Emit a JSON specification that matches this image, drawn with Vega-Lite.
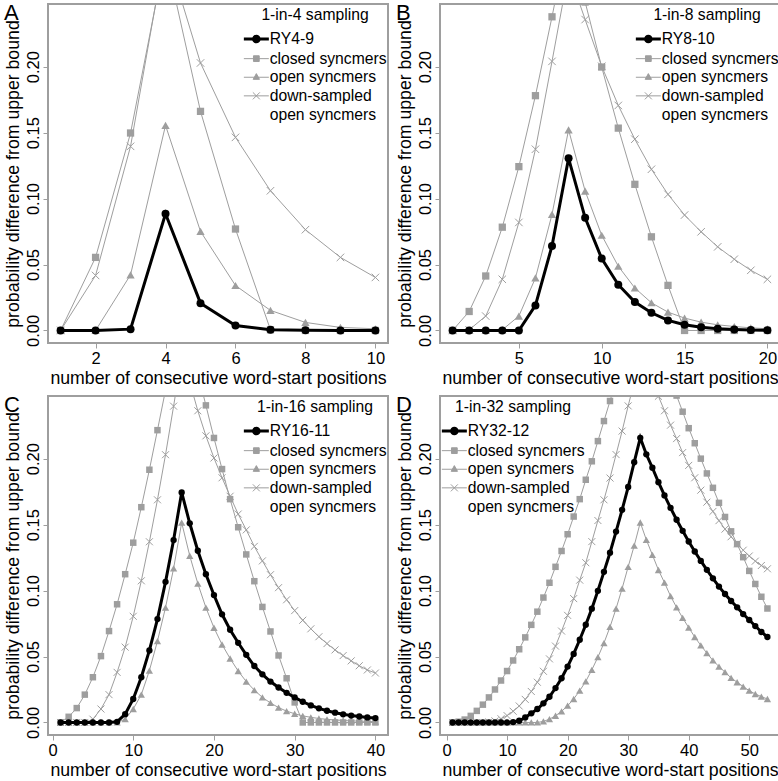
{
"$schema": "https://vega.github.io/schema/vega-lite/v6.json",
"background": "white",
"padding": {"left": 2, "top": 1, "right": 0, "bottom": 0},
"config": {
 "font": "Liberation Sans",
 "view": {"stroke": "#9e9e9e", "strokeWidth": 2},
 "axis": {"domain": false, "grid": false, "tickColor": "#9e9e9e", "tickSize": 5, "tickWidth": 1, "labelFont": "Liberation Sans", "labelFontSize": 16.5, "labelColor": "black", "titleFont": "Liberation Sans", "titleFontSize": 17.7, "titleFontWeight": "normal", "titleColor": "black", "labelPadding": 2},
 "axisX": {"titlePadding": 3, "labelFlush": false, "labelOverlap": false},
 "axisY": {"labelAngle": 270, "labelAlign": "center", "labelBaseline": "bottom", "titlePadding": 3, "labelOverlap": false},
 "legend": {"padding": 0, "titleFont": "Liberation Sans", "titleFontSize": 15.7, "titleFontWeight": "normal", "titleColor": "black", "titleAnchor": "middle", "titlePadding": 7.5, "titleLineHeight": 3, "labelFont": "Liberation Sans", "labelFontSize": 15.7, "labelColor": "black", "labelOffset": 5.5, "labelLimit": 400, "rowPadding": 1.6, "symbolSize": 196, "symbolOffset": 5.5},
 "title": {"font": "Liberation Sans", "fontSize": 22, "fontWeight": "normal", "color": "black", "anchor": "start", "frame": "bounds", "offset": -21}
},
"datasets": {
 "A": [
  {"s":"RY","x":1,"y":0},{"s":"RY","x":2,"y":0},{"s":"RY","x":3,"y":0.001},{"s":"RY","x":4,"y":0.0885},{"s":"RY","x":5,"y":0.0207},{"s":"RY","x":6,"y":0.0038},{"s":"RY","x":7,"y":0.0005},{"s":"RY","x":8,"y":0.0001},{"s":"RY","x":9,"y":0},{"s":"RY","x":10,"y":0},
  {"s":"closed","x":1,"y":0},{"s":"closed","x":2,"y":0.0554},{"s":"closed","x":3,"y":0.1497},{"s":"closed","x":4,"y":0.285},{"s":"closed","x":5,"y":0.1661},{"s":"closed","x":6,"y":0.0769},{"s":"closed","x":7,"y":0.0005},{"s":"closed","x":8,"y":0},{"s":"closed","x":9,"y":0},{"s":"closed","x":10,"y":0},
  {"s":"open","x":1,"y":0},{"s":"open","x":2,"y":0},{"s":"open","x":3,"y":0.0422},{"s":"open","x":4,"y":0.1555},{"s":"open","x":5,"y":0.0751},{"s":"open","x":6,"y":0.0341},{"s":"open","x":7,"y":0.0152},{"s":"open","x":8,"y":0.0061},{"s":"open","x":9,"y":0.0023},{"s":"open","x":10,"y":0.0013},
  {"s":"down","x":1,"y":0},{"s":"down","x":2,"y":0.0417},{"s":"down","x":3,"y":0.1396},{"s":"down","x":4,"y":0.29},{"s":"down","x":5,"y":0.2028},{"s":"down","x":6,"y":0.1464},{"s":"down","x":7,"y":0.1059},{"s":"down","x":8,"y":0.0764},{"s":"down","x":9,"y":0.0554},{"s":"down","x":10,"y":0.0402}
 ],
 "B": [
  {"s":"RY","x":1,"y":0},{"s":"RY","x":2,"y":0},{"s":"RY","x":3,"y":0},{"s":"RY","x":4,"y":0},{"s":"RY","x":5,"y":0},{"s":"RY","x":6,"y":0.019},{"s":"RY","x":7,"y":0.0641},{"s":"RY","x":8,"y":0.1305},{"s":"RY","x":9,"y":0.0854},{"s":"RY","x":10,"y":0.0545},{"s":"RY","x":11,"y":0.0347},{"s":"RY","x":12,"y":0.0215},{"s":"RY","x":13,"y":0.0134},{"s":"RY","x":14,"y":0.0076},{"s":"RY","x":15,"y":0.0043},{"s":"RY","x":16,"y":0.0025},{"s":"RY","x":17,"y":0.0013},{"s":"RY","x":18,"y":0.0008},{"s":"RY","x":19,"y":0.0003},{"s":"RY","x":20,"y":0.0001},
  {"s":"closed","x":1,"y":0},{"s":"closed","x":2,"y":0.0144},{"s":"closed","x":3,"y":0.0413},{"s":"closed","x":4,"y":0.0783},{"s":"closed","x":5,"y":0.1242},{"s":"closed","x":6,"y":0.178},{"s":"closed","x":7,"y":0.2378},{"s":"closed","x":8,"y":0.3},{"s":"closed","x":9,"y":0.249},{"s":"closed","x":10,"y":0.1997},{"s":"closed","x":11,"y":0.1534},{"s":"closed","x":12,"y":0.1108},{"s":"closed","x":13,"y":0.071},{"s":"closed","x":14,"y":0.0342},{"s":"closed","x":15,"y":0},{"s":"closed","x":16,"y":0},{"s":"closed","x":17,"y":0},{"s":"closed","x":18,"y":0},{"s":"closed","x":19,"y":0},{"s":"closed","x":20,"y":0},
  {"s":"open","x":1,"y":0},{"s":"open","x":2,"y":0},{"s":"open","x":3,"y":0},{"s":"open","x":4,"y":0.0005},{"s":"open","x":5,"y":0.0109},{"s":"open","x":6,"y":0.0398},{"s":"open","x":7,"y":0.088},{"s":"open","x":8,"y":0.1521},{"s":"open","x":9,"y":0.1057},{"s":"open","x":10,"y":0.0722},{"s":"open","x":11,"y":0.0487},{"s":"open","x":12,"y":0.0322},{"s":"open","x":13,"y":0.021},{"s":"open","x":14,"y":0.0139},{"s":"open","x":15,"y":0.0094},{"s":"open","x":16,"y":0.0063},{"s":"open","x":17,"y":0.0043},{"s":"open","x":18,"y":0.003},{"s":"open","x":19,"y":0.002},{"s":"open","x":20,"y":0.0013},
  {"s":"down","x":1,"y":0},{"s":"down","x":2,"y":0.0005},{"s":"down","x":3,"y":0.0109},{"s":"down","x":4,"y":0.0388},{"s":"down","x":5,"y":0.0819},{"s":"down","x":6,"y":0.1374},{"s":"down","x":7,"y":0.204},{"s":"down","x":8,"y":0.272},{"s":"down","x":9,"y":0.2357},{"s":"down","x":10,"y":0.2003},{"s":"down","x":11,"y":0.1706},{"s":"down","x":12,"y":0.145},{"s":"down","x":13,"y":0.1222},{"s":"down","x":14,"y":0.1032},{"s":"down","x":15,"y":0.0875},{"s":"down","x":16,"y":0.0748},{"s":"down","x":17,"y":0.0634},{"s":"down","x":18,"y":0.054},{"s":"down","x":19,"y":0.0456},{"s":"down","x":20,"y":0.0388}
 ],
 "C": [
  {"s":"RY","x":1,"y":0},{"s":"RY","x":2,"y":0},{"s":"RY","x":3,"y":0},{"s":"RY","x":4,"y":0},{"s":"RY","x":5,"y":0},{"s":"RY","x":6,"y":0},{"s":"RY","x":7,"y":0},{"s":"RY","x":8,"y":0.0005},{"s":"RY","x":9,"y":0.0063},{"s":"RY","x":10,"y":0.0178},{"s":"RY","x":11,"y":0.0343},{"s":"RY","x":12,"y":0.0546},{"s":"RY","x":13,"y":0.0784},{"s":"RY","x":14,"y":0.1066},{"s":"RY","x":15,"y":0.1383},{"s":"RY","x":16,"y":0.1744},{"s":"RY","x":17,"y":0.151},{"s":"RY","x":18,"y":0.1302},{"s":"RY","x":19,"y":0.1124},{"s":"RY","x":20,"y":0.0966},{"s":"RY","x":21,"y":0.082},{"s":"RY","x":22,"y":0.0703},{"s":"RY","x":23,"y":0.0604},{"s":"RY","x":24,"y":0.0513},{"s":"RY","x":25,"y":0.0428},{"s":"RY","x":26,"y":0.0365},{"s":"RY","x":27,"y":0.031},{"s":"RY","x":28,"y":0.0265},{"s":"RY","x":29,"y":0.0225},{"s":"RY","x":30,"y":0.019},{"s":"RY","x":31,"y":0.0157},{"s":"RY","x":32,"y":0.0129},{"s":"RY","x":33,"y":0.0107},{"s":"RY","x":34,"y":0.0089},{"s":"RY","x":35,"y":0.0074},{"s":"RY","x":36,"y":0.0062},{"s":"RY","x":37,"y":0.0052},{"s":"RY","x":38,"y":0.0045},{"s":"RY","x":39,"y":0.0038},{"s":"RY","x":40,"y":0.0033},
  {"s":"closed","x":1,"y":0},{"s":"closed","x":2,"y":0.0043},{"s":"closed","x":3,"y":0.0109},{"s":"closed","x":4,"y":0.0211},{"s":"closed","x":5,"y":0.0343},{"s":"closed","x":6,"y":0.0503},{"s":"closed","x":7,"y":0.0693},{"s":"closed","x":8,"y":0.0896},{"s":"closed","x":9,"y":0.1124},{"s":"closed","x":10,"y":0.1363},{"s":"closed","x":11,"y":0.1632},{"s":"closed","x":12,"y":0.1916},{"s":"closed","x":13,"y":0.2216},{"s":"closed","x":14,"y":0.252},{"s":"closed","x":15,"y":0.283},{"s":"closed","x":16,"y":0.314},{"s":"closed","x":17,"y":0.29},{"s":"closed","x":18,"y":0.265},{"s":"closed","x":19,"y":0.2404},{"s":"closed","x":20,"y":0.2157},{"s":"closed","x":21,"y":0.1921},{"s":"closed","x":22,"y":0.1693},{"s":"closed","x":23,"y":0.148},{"s":"closed","x":24,"y":0.1274},{"s":"closed","x":25,"y":0.1071},{"s":"closed","x":26,"y":0.0876},{"s":"closed","x":27,"y":0.069},{"s":"closed","x":28,"y":0.0508},{"s":"closed","x":29,"y":0.0335},{"s":"closed","x":30,"y":0.0152},{"s":"closed","x":31,"y":0},{"s":"closed","x":32,"y":0},{"s":"closed","x":33,"y":0},{"s":"closed","x":34,"y":0},{"s":"closed","x":35,"y":0},{"s":"closed","x":36,"y":0},{"s":"closed","x":37,"y":0},{"s":"closed","x":38,"y":0},{"s":"closed","x":39,"y":0},{"s":"closed","x":40,"y":0},
  {"s":"open","x":1,"y":0},{"s":"open","x":2,"y":0},{"s":"open","x":3,"y":0},{"s":"open","x":4,"y":0},{"s":"open","x":5,"y":0},{"s":"open","x":6,"y":0},{"s":"open","x":7,"y":0},{"s":"open","x":8,"y":0},{"s":"open","x":9,"y":0.0025},{"s":"open","x":10,"y":0.0102},{"s":"open","x":11,"y":0.0211},{"s":"open","x":12,"y":0.0393},{"s":"open","x":13,"y":0.0617},{"s":"open","x":14,"y":0.0871},{"s":"open","x":15,"y":0.1168},{"s":"open","x":16,"y":0.1515},{"s":"open","x":17,"y":0.1264},{"s":"open","x":18,"y":0.1053},{"s":"open","x":19,"y":0.0871},{"s":"open","x":20,"y":0.0718},{"s":"open","x":21,"y":0.0591},{"s":"open","x":22,"y":0.0485},{"s":"open","x":23,"y":0.039},{"s":"open","x":24,"y":0.031},{"s":"open","x":25,"y":0.0245},{"s":"open","x":26,"y":0.019},{"s":"open","x":27,"y":0.0148},{"s":"open","x":28,"y":0.0113},{"s":"open","x":29,"y":0.0086},{"s":"open","x":30,"y":0.0066},{"s":"open","x":31,"y":0.005},{"s":"open","x":32,"y":0.0039},{"s":"open","x":33,"y":0.003},{"s":"open","x":34,"y":0.0024},{"s":"open","x":35,"y":0.0019},{"s":"open","x":36,"y":0.0015},{"s":"open","x":37,"y":0.0012},{"s":"open","x":38,"y":0.001},{"s":"open","x":39,"y":0.0008},{"s":"open","x":40,"y":0.0006},
  {"s":"down","x":1,"y":0},{"s":"down","x":2,"y":0},{"s":"down","x":3,"y":0},{"s":"down","x":4,"y":0},{"s":"down","x":5,"y":0.0025},{"s":"down","x":6,"y":0.0102},{"s":"down","x":7,"y":0.0211},{"s":"down","x":8,"y":0.038},{"s":"down","x":9,"y":0.0571},{"s":"down","x":10,"y":0.0805},{"s":"down","x":11,"y":0.1074},{"s":"down","x":12,"y":0.137},{"s":"down","x":13,"y":0.1688},{"s":"down","x":14,"y":0.203},{"s":"down","x":15,"y":0.2398},{"s":"down","x":16,"y":0.278},{"s":"down","x":17,"y":0.258},{"s":"down","x":18,"y":0.2363},{"s":"down","x":19,"y":0.2173},{"s":"down","x":20,"y":0.2005},{"s":"down","x":21,"y":0.1855},{"s":"down","x":22,"y":0.1715},{"s":"down","x":23,"y":0.158},{"s":"down","x":24,"y":0.146},{"s":"down","x":25,"y":0.1335},{"s":"down","x":26,"y":0.1225},{"s":"down","x":27,"y":0.112},{"s":"down","x":28,"y":0.1022},{"s":"down","x":29,"y":0.093},{"s":"down","x":30,"y":0.0848},{"s":"down","x":31,"y":0.0775},{"s":"down","x":32,"y":0.071},{"s":"down","x":33,"y":0.065},{"s":"down","x":34,"y":0.0598},{"s":"down","x":35,"y":0.055},{"s":"down","x":36,"y":0.0507},{"s":"down","x":37,"y":0.0467},{"s":"down","x":38,"y":0.043},{"s":"down","x":39,"y":0.0398},{"s":"down","x":40,"y":0.0375}
 ],
 "D": [
  {"s":"RY","x":1,"y":0},{"s":"RY","x":2,"y":0},{"s":"RY","x":3,"y":0},{"s":"RY","x":4,"y":0},{"s":"RY","x":5,"y":0},{"s":"RY","x":6,"y":0},{"s":"RY","x":7,"y":0},{"s":"RY","x":8,"y":0},{"s":"RY","x":9,"y":0},{"s":"RY","x":10,"y":0},{"s":"RY","x":11,"y":0.0003},{"s":"RY","x":12,"y":0.0013},{"s":"RY","x":13,"y":0.0038},{"s":"RY","x":14,"y":0.0069},{"s":"RY","x":15,"y":0.0102},{"s":"RY","x":16,"y":0.0145},{"s":"RY","x":17,"y":0.0195},{"s":"RY","x":18,"y":0.0261},{"s":"RY","x":19,"y":0.0335},{"s":"RY","x":20,"y":0.0424},{"s":"RY","x":21,"y":0.052},{"s":"RY","x":22,"y":0.0627},{"s":"RY","x":23,"y":0.0741},{"s":"RY","x":24,"y":0.0863},{"s":"RY","x":25,"y":0.0998},{"s":"RY","x":26,"y":0.1142},{"s":"RY","x":27,"y":0.1287},{"s":"RY","x":28,"y":0.1447},{"s":"RY","x":29,"y":0.1612},{"s":"RY","x":30,"y":0.1785},{"s":"RY","x":31,"y":0.1973},{"s":"RY","x":32,"y":0.2158},{"s":"RY","x":33,"y":0.2033},{"s":"RY","x":34,"y":0.1931},{"s":"RY","x":35,"y":0.1822},{"s":"RY","x":36,"y":0.1721},{"s":"RY","x":37,"y":0.1627},{"s":"RY","x":38,"y":0.1537},{"s":"RY","x":39,"y":0.1453},{"s":"RY","x":40,"y":0.1372},{"s":"RY","x":41,"y":0.1296},{"s":"RY","x":42,"y":0.1225},{"s":"RY","x":43,"y":0.1157},{"s":"RY","x":44,"y":0.1093},{"s":"RY","x":45,"y":0.103},{"s":"RY","x":46,"y":0.0974},{"s":"RY","x":47,"y":0.0921},{"s":"RY","x":48,"y":0.0873},{"s":"RY","x":49,"y":0.0822},{"s":"RY","x":50,"y":0.0777},{"s":"RY","x":51,"y":0.0731},{"s":"RY","x":52,"y":0.0686},{"s":"RY","x":53,"y":0.0648},
  {"s":"closed","x":1,"y":0},{"s":"closed","x":2,"y":0.0006},{"s":"closed","x":3,"y":0.0022},{"s":"closed","x":4,"y":0.005},{"s":"closed","x":5,"y":0.0088},{"s":"closed","x":6,"y":0.0135},{"s":"closed","x":7,"y":0.019},{"s":"closed","x":8,"y":0.025},{"s":"closed","x":9,"y":0.0318},{"s":"closed","x":10,"y":0.039},{"s":"closed","x":11,"y":0.047},{"s":"closed","x":12,"y":0.0555},{"s":"closed","x":13,"y":0.0645},{"s":"closed","x":14,"y":0.074},{"s":"closed","x":15,"y":0.084},{"s":"closed","x":16,"y":0.0947},{"s":"closed","x":17,"y":0.1059},{"s":"closed","x":18,"y":0.118},{"s":"closed","x":19,"y":0.13},{"s":"closed","x":20,"y":0.1427},{"s":"closed","x":21,"y":0.1561},{"s":"closed","x":22,"y":0.1693},{"s":"closed","x":23,"y":0.184},{"s":"closed","x":24,"y":0.198},{"s":"closed","x":25,"y":0.2133},{"s":"closed","x":26,"y":0.2285},{"s":"closed","x":27,"y":0.2437},{"s":"closed","x":28,"y":0.259},{"s":"closed","x":29,"y":0.275},{"s":"closed","x":30,"y":0.291},{"s":"closed","x":31,"y":0.307},{"s":"closed","x":32,"y":0.323},{"s":"closed","x":33,"y":0.31},{"s":"closed","x":34,"y":0.297},{"s":"closed","x":35,"y":0.285},{"s":"closed","x":36,"y":0.273},{"s":"closed","x":37,"y":0.261},{"s":"closed","x":38,"y":0.2478},{"s":"closed","x":39,"y":0.2356},{"s":"closed","x":40,"y":0.2231},{"s":"closed","x":41,"y":0.2117},{"s":"closed","x":42,"y":0.2},{"s":"closed","x":43,"y":0.1888},{"s":"closed","x":44,"y":0.1779},{"s":"closed","x":45,"y":0.1665},{"s":"closed","x":46,"y":0.1558},{"s":"closed","x":47,"y":0.1449},{"s":"closed","x":48,"y":0.1352},{"s":"closed","x":49,"y":0.1253},{"s":"closed","x":50,"y":0.1149},{"s":"closed","x":51,"y":0.105},{"s":"closed","x":52,"y":0.0953},{"s":"closed","x":53,"y":0.0864},
  {"s":"open","x":1,"y":0},{"s":"open","x":2,"y":0},{"s":"open","x":3,"y":0},{"s":"open","x":4,"y":0},{"s":"open","x":5,"y":0},{"s":"open","x":6,"y":0},{"s":"open","x":7,"y":0},{"s":"open","x":8,"y":0},{"s":"open","x":9,"y":0},{"s":"open","x":10,"y":0},{"s":"open","x":11,"y":0},{"s":"open","x":12,"y":0},{"s":"open","x":13,"y":0},{"s":"open","x":14,"y":0},{"s":"open","x":15,"y":0},{"s":"open","x":16,"y":0.0008},{"s":"open","x":17,"y":0.0025},{"s":"open","x":18,"y":0.0051},{"s":"open","x":19,"y":0.0084},{"s":"open","x":20,"y":0.0127},{"s":"open","x":21,"y":0.0178},{"s":"open","x":22,"y":0.0241},{"s":"open","x":23,"y":0.0312},{"s":"open","x":24,"y":0.0399},{"s":"open","x":25,"y":0.0495},{"s":"open","x":26,"y":0.0602},{"s":"open","x":27,"y":0.0724},{"s":"open","x":28,"y":0.0863},{"s":"open","x":29,"y":0.1015},{"s":"open","x":30,"y":0.118},{"s":"open","x":31,"y":0.134},{"s":"open","x":32,"y":0.1516},{"s":"open","x":33,"y":0.1385},{"s":"open","x":34,"y":0.1271},{"s":"open","x":35,"y":0.1156},{"s":"open","x":36,"y":0.106},{"s":"open","x":37,"y":0.0958},{"s":"open","x":38,"y":0.0872},{"s":"open","x":39,"y":0.0793},{"s":"open","x":40,"y":0.0719},{"s":"open","x":41,"y":0.0648},{"s":"open","x":42,"y":0.0584},{"s":"open","x":43,"y":0.0526},{"s":"open","x":44,"y":0.047},{"s":"open","x":45,"y":0.0424},{"s":"open","x":46,"y":0.0381},{"s":"open","x":47,"y":0.0338},{"s":"open","x":48,"y":0.0305},{"s":"open","x":49,"y":0.0272},{"s":"open","x":50,"y":0.0241},{"s":"open","x":51,"y":0.0216},{"s":"open","x":52,"y":0.0196},{"s":"open","x":53,"y":0.0178},
  {"s":"down","x":1,"y":0},{"s":"down","x":2,"y":0},{"s":"down","x":3,"y":0},{"s":"down","x":4,"y":0},{"s":"down","x":5,"y":0},{"s":"down","x":6,"y":0},{"s":"down","x":7,"y":0.0004},{"s":"down","x":8,"y":0.0012},{"s":"down","x":9,"y":0.0028},{"s":"down","x":10,"y":0.0052},{"s":"down","x":11,"y":0.0085},{"s":"down","x":12,"y":0.0125},{"s":"down","x":13,"y":0.0175},{"s":"down","x":14,"y":0.0235},{"s":"down","x":15,"y":0.0305},{"s":"down","x":16,"y":0.0388},{"s":"down","x":17,"y":0.0482},{"s":"down","x":18,"y":0.0579},{"s":"down","x":19,"y":0.0693},{"s":"down","x":20,"y":0.0812},{"s":"down","x":21,"y":0.0939},{"s":"down","x":22,"y":0.1079},{"s":"down","x":23,"y":0.1211},{"s":"down","x":24,"y":0.1371},{"s":"down","x":25,"y":0.1531},{"s":"down","x":26,"y":0.1688},{"s":"down","x":27,"y":0.1853},{"s":"down","x":28,"y":0.2031},{"s":"down","x":29,"y":0.2209},{"s":"down","x":30,"y":0.24},{"s":"down","x":31,"y":0.258},{"s":"down","x":32,"y":0.276},{"s":"down","x":33,"y":0.268},{"s":"down","x":34,"y":0.258},{"s":"down","x":35,"y":0.2473},{"s":"down","x":36,"y":0.2363},{"s":"down","x":37,"y":0.2254},{"s":"down","x":38,"y":0.2152},{"s":"down","x":39,"y":0.2046},{"s":"down","x":40,"y":0.1949},{"s":"down","x":41,"y":0.1855},{"s":"down","x":42,"y":0.1761},{"s":"down","x":43,"y":0.167},{"s":"down","x":44,"y":0.16},{"s":"down","x":45,"y":0.153},{"s":"down","x":46,"y":0.1466},{"s":"down","x":47,"y":0.1408},{"s":"down","x":48,"y":0.1355},{"s":"down","x":49,"y":0.1306},{"s":"down","x":50,"y":0.1262},{"s":"down","x":51,"y":0.1223},{"s":"down","x":52,"y":0.119},{"s":"down","x":53,"y":0.1165}
 ]
},
"columns": 2,
"spacing": {"row": 53, "column": 52},
"bounds": "flush",
"resolve": {"scale": {"x": "independent", "y": "independent", "color": "independent"}, "legend": {"color": "independent"}, "axis": {"x": "independent", "y": "independent"}},
"concat": [
 {
  "width": 340, "height": 339,
  "data": {"name": "A"},
  "title": {"text": "A"},
  "encoding": {
   "x": {"field": "x", "type": "quantitative", "scale": {"domain": [0.64, 10.36], "nice": false, "zero": false}, "axis": {"values": [2, 4, 6, 8, 10], "title": "number of consecutive word-start positions"}},
   "y": {"field": "y", "type": "quantitative", "scale": {"domain": [-0.0095, 0.2475], "nice": false, "zero": false}, "axis": {"values": [0, 0.05, 0.1, 0.15, 0.2], "format": ".2f", "title": "probability difference from upper bound"}}
  },
  "layer": [
   {"transform": [{"filter": "datum.s != 'RY'"}], "mark": {"type": "line", "clip": true, "strokeWidth": 1},
    "encoding": {"color": {"field": "s", "type": "nominal", "scale": {"domain": ["RY", "closed", "open", "down"], "range": ["#000000", "#9e9e9e", "#9e9e9e", "#9e9e9e"]},
     "legend": {"title": ["", "1-in-4 sampling"], "orient": "top-right", "offset": 1,
      "labelExpr": "datum.value == 'RY' ? 'RY4-9' : datum.value == 'closed' ? 'closed syncmers' : datum.value == 'open' ? 'open syncmers' : ['down-sampled', 'open syncmers']",
      "encode": {"symbols": {"update": {
        "shape": {"signal": "datum.value == 'RY' ? 'M-1.786,0L1.786,0M0.4,0A0.4,0.4,0,1,1,-0.4,0A0.4,0.4,0,1,1,0.4,0Z' : datum.value == 'closed' ? 'M-1.786,0L1.786,0M-0.41,-0.41L0.41,-0.41L0.41,0.41L-0.41,0.41Z' : datum.value == 'open' ? 'M-1.786,0L1.786,0M0,-0.52L0.45,0.3L-0.45,0.3Z' : 'M-1.786,0L1.786,0M-0.5,-0.5L0.5,0.5M-0.5,0.5L0.5,-0.5'"},
        "fill": {"signal": "datum.value == 'RY' ? '#000000' : datum.value == 'down' ? 'transparent' : '#9e9e9e'"},
        "stroke": {"signal": "datum.value == 'RY' ? '#000000' : '#9e9e9e'"},
        "strokeWidth": {"signal": "datum.value == 'RY' ? 3 : 1"},
        "size": {"value": 196}, "opacity": {"value": 1}}},
       "labels": {"update": {"lineHeight": {"value": 19}}}}}}}},
   {"transform": [{"filter": "datum.s == 'closed'"}], "mark": {"type": "point", "filled": true, "clip": true, "shape": "square", "color": "#9e9e9e", "opacity": 1, "size": 53}},
   {"transform": [{"filter": "datum.s == 'open'"}], "mark": {"type": "point", "filled": true, "clip": true, "shape": "triangle-up", "color": "#9e9e9e", "opacity": 1, "size": 69}},
   {"transform": [{"filter": "datum.s == 'down'"}], "mark": {"type": "point", "filled": false, "clip": true, "shape": "M-1,-1L1,1M-1,1L1,-1", "stroke": "#9e9e9e", "strokeWidth": 1, "opacity": 1, "size": 56}},
   {"transform": [{"filter": "datum.s == 'RY'"}], "mark": {"type": "line", "clip": true, "strokeWidth": 3, "color": "#000000"}},
   {"transform": [{"filter": "datum.s == 'RY'"}], "mark": {"type": "point", "filled": true, "clip": true, "shape": "circle", "color": "#000000", "opacity": 1, "size": 64}}
  ]
 },
 {
  "width": 340, "height": 339,
  "data": {"name": "B"},
  "title": {"text": "B"},
  "encoding": {
   "x": {"field": "x", "type": "quantitative", "scale": {"domain": [0.24, 20.76], "nice": false, "zero": false}, "axis": {"values": [5, 10, 15, 20], "title": "number of consecutive word-start positions"}},
   "y": {"field": "y", "type": "quantitative", "scale": {"domain": [-0.0095, 0.2475], "nice": false, "zero": false}, "axis": {"values": [0, 0.05, 0.1, 0.15, 0.2], "format": ".2f", "title": "probability difference from upper bound"}}
  },
  "layer": [
   {"transform": [{"filter": "datum.s != 'RY'"}], "mark": {"type": "line", "clip": true, "strokeWidth": 1},
    "encoding": {"color": {"field": "s", "type": "nominal", "scale": {"domain": ["RY", "closed", "open", "down"], "range": ["#000000", "#9e9e9e", "#9e9e9e", "#9e9e9e"]},
     "legend": {"title": ["", "1-in-8 sampling"], "orient": "top-right", "offset": 1,
      "labelExpr": "datum.value == 'RY' ? 'RY8-10' : datum.value == 'closed' ? 'closed syncmers' : datum.value == 'open' ? 'open syncmers' : ['down-sampled', 'open syncmers']",
      "encode": {"symbols": {"update": {
        "shape": {"signal": "datum.value == 'RY' ? 'M-1.786,0L1.786,0M0.4,0A0.4,0.4,0,1,1,-0.4,0A0.4,0.4,0,1,1,0.4,0Z' : datum.value == 'closed' ? 'M-1.786,0L1.786,0M-0.41,-0.41L0.41,-0.41L0.41,0.41L-0.41,0.41Z' : datum.value == 'open' ? 'M-1.786,0L1.786,0M0,-0.52L0.45,0.3L-0.45,0.3Z' : 'M-1.786,0L1.786,0M-0.5,-0.5L0.5,0.5M-0.5,0.5L0.5,-0.5'"},
        "fill": {"signal": "datum.value == 'RY' ? '#000000' : datum.value == 'down' ? 'transparent' : '#9e9e9e'"},
        "stroke": {"signal": "datum.value == 'RY' ? '#000000' : '#9e9e9e'"},
        "strokeWidth": {"signal": "datum.value == 'RY' ? 3 : 1"},
        "size": {"value": 196}, "opacity": {"value": 1}}},
       "labels": {"update": {"lineHeight": {"value": 19}}}}}}}},
   {"transform": [{"filter": "datum.s == 'closed'"}], "mark": {"type": "point", "filled": true, "clip": true, "shape": "square", "color": "#9e9e9e", "opacity": 1, "size": 53}},
   {"transform": [{"filter": "datum.s == 'open'"}], "mark": {"type": "point", "filled": true, "clip": true, "shape": "triangle-up", "color": "#9e9e9e", "opacity": 1, "size": 69}},
   {"transform": [{"filter": "datum.s == 'down'"}], "mark": {"type": "point", "filled": false, "clip": true, "shape": "M-1,-1L1,1M-1,1L1,-1", "stroke": "#9e9e9e", "strokeWidth": 1, "opacity": 1, "size": 56}},
   {"transform": [{"filter": "datum.s == 'RY'"}], "mark": {"type": "line", "clip": true, "strokeWidth": 3, "color": "#000000"}},
   {"transform": [{"filter": "datum.s == 'RY'"}], "mark": {"type": "point", "filled": true, "clip": true, "shape": "circle", "color": "#000000", "opacity": 1, "size": 64}}
  ]
 },
 {
  "width": 340, "height": 339,
  "data": {"name": "C"},
  "title": {"text": "C"},
  "encoding": {
   "x": {"field": "x", "type": "quantitative", "scale": {"domain": [-0.56, 41.56], "nice": false, "zero": false}, "axis": {"values": [0, 10, 20, 30, 40], "title": "number of consecutive word-start positions"}},
   "y": {"field": "y", "type": "quantitative", "scale": {"domain": [-0.0095, 0.2475], "nice": false, "zero": false}, "axis": {"values": [0, 0.05, 0.1, 0.15, 0.2], "format": ".2f", "title": "probability difference from upper bound"}}
  },
  "layer": [
   {"transform": [{"filter": "datum.s != 'RY'"}], "mark": {"type": "line", "clip": true, "strokeWidth": 1},
    "encoding": {"color": {"field": "s", "type": "nominal", "scale": {"domain": ["RY", "closed", "open", "down"], "range": ["#000000", "#9e9e9e", "#9e9e9e", "#9e9e9e"]},
     "legend": {"title": ["", "1-in-16 sampling"], "orient": "top-right", "offset": 1,
      "labelExpr": "datum.value == 'RY' ? 'RY16-11' : datum.value == 'closed' ? 'closed syncmers' : datum.value == 'open' ? 'open syncmers' : ['down-sampled', 'open syncmers']",
      "encode": {"symbols": {"update": {
        "shape": {"signal": "datum.value == 'RY' ? 'M-1.786,0L1.786,0M0.4,0A0.4,0.4,0,1,1,-0.4,0A0.4,0.4,0,1,1,0.4,0Z' : datum.value == 'closed' ? 'M-1.786,0L1.786,0M-0.41,-0.41L0.41,-0.41L0.41,0.41L-0.41,0.41Z' : datum.value == 'open' ? 'M-1.786,0L1.786,0M0,-0.52L0.45,0.3L-0.45,0.3Z' : 'M-1.786,0L1.786,0M-0.5,-0.5L0.5,0.5M-0.5,0.5L0.5,-0.5'"},
        "fill": {"signal": "datum.value == 'RY' ? '#000000' : datum.value == 'down' ? 'transparent' : '#9e9e9e'"},
        "stroke": {"signal": "datum.value == 'RY' ? '#000000' : '#9e9e9e'"},
        "strokeWidth": {"signal": "datum.value == 'RY' ? 3 : 1"},
        "size": {"value": 196}, "opacity": {"value": 1}}},
       "labels": {"update": {"lineHeight": {"value": 19}}}}}}}},
   {"transform": [{"filter": "datum.s == 'closed'"}], "mark": {"type": "point", "filled": true, "clip": true, "shape": "square", "color": "#9e9e9e", "opacity": 1, "size": 42}},
   {"transform": [{"filter": "datum.s == 'open'"}], "mark": {"type": "point", "filled": true, "clip": true, "shape": "triangle-up", "color": "#9e9e9e", "opacity": 1, "size": 53}},
   {"transform": [{"filter": "datum.s == 'down'"}], "mark": {"type": "point", "filled": false, "clip": true, "shape": "M-1,-1L1,1M-1,1L1,-1", "stroke": "#9e9e9e", "strokeWidth": 1, "opacity": 1, "size": 49}},
   {"transform": [{"filter": "datum.s == 'RY'"}], "mark": {"type": "line", "clip": true, "strokeWidth": 3, "color": "#000000"}},
   {"transform": [{"filter": "datum.s == 'RY'"}], "mark": {"type": "point", "filled": true, "clip": true, "shape": "circle", "color": "#000000", "opacity": 1, "size": 40}}
  ]
 },
 {
  "width": 340, "height": 339,
  "data": {"name": "D"},
  "title": {"text": "D"},
  "encoding": {
   "x": {"field": "x", "type": "quantitative", "scale": {"domain": [-1.08, 55.08], "nice": false, "zero": false}, "axis": {"values": [0, 10, 20, 30, 40, 50], "title": "number of consecutive word-start positions"}},
   "y": {"field": "y", "type": "quantitative", "scale": {"domain": [-0.0095, 0.2475], "nice": false, "zero": false}, "axis": {"values": [0, 0.05, 0.1, 0.15, 0.2], "format": ".2f", "title": "probability difference from upper bound"}}
  },
  "layer": [
   {"transform": [{"filter": "datum.s != 'RY'"}], "mark": {"type": "line", "clip": true, "strokeWidth": 1},
    "encoding": {"color": {"field": "s", "type": "nominal", "scale": {"domain": ["RY", "closed", "open", "down"], "range": ["#000000", "#9e9e9e", "#9e9e9e", "#9e9e9e"]},
     "legend": {"title": ["", "1-in-32 sampling"], "orient": "top-left", "offset": 1,
      "labelExpr": "datum.value == 'RY' ? 'RY32-12' : datum.value == 'closed' ? 'closed syncmers' : datum.value == 'open' ? 'open syncmers' : ['down-sampled', 'open syncmers']",
      "encode": {"symbols": {"update": {
        "shape": {"signal": "datum.value == 'RY' ? 'M-1.786,0L1.786,0M0.4,0A0.4,0.4,0,1,1,-0.4,0A0.4,0.4,0,1,1,0.4,0Z' : datum.value == 'closed' ? 'M-1.786,0L1.786,0M-0.41,-0.41L0.41,-0.41L0.41,0.41L-0.41,0.41Z' : datum.value == 'open' ? 'M-1.786,0L1.786,0M0,-0.52L0.45,0.3L-0.45,0.3Z' : 'M-1.786,0L1.786,0M-0.5,-0.5L0.5,0.5M-0.5,0.5L0.5,-0.5'"},
        "fill": {"signal": "datum.value == 'RY' ? '#000000' : datum.value == 'down' ? 'transparent' : '#9e9e9e'"},
        "stroke": {"signal": "datum.value == 'RY' ? '#000000' : '#9e9e9e'"},
        "strokeWidth": {"signal": "datum.value == 'RY' ? 3 : 1"},
        "size": {"value": 196}, "opacity": {"value": 1}}},
       "labels": {"update": {"lineHeight": {"value": 19}}}}}}}},
   {"transform": [{"filter": "datum.s == 'closed'"}], "mark": {"type": "point", "filled": true, "clip": true, "shape": "square", "color": "#9e9e9e", "opacity": 1, "size": 42}},
   {"transform": [{"filter": "datum.s == 'open'"}], "mark": {"type": "point", "filled": true, "clip": true, "shape": "triangle-up", "color": "#9e9e9e", "opacity": 1, "size": 53}},
   {"transform": [{"filter": "datum.s == 'down'"}], "mark": {"type": "point", "filled": false, "clip": true, "shape": "M-1,-1L1,1M-1,1L1,-1", "stroke": "#9e9e9e", "strokeWidth": 1, "opacity": 1, "size": 49}},
   {"transform": [{"filter": "datum.s == 'RY'"}], "mark": {"type": "line", "clip": true, "strokeWidth": 3, "color": "#000000"}},
   {"transform": [{"filter": "datum.s == 'RY'"}], "mark": {"type": "point", "filled": true, "clip": true, "shape": "circle", "color": "#000000", "opacity": 1, "size": 40}}
  ]
 }
]
}
